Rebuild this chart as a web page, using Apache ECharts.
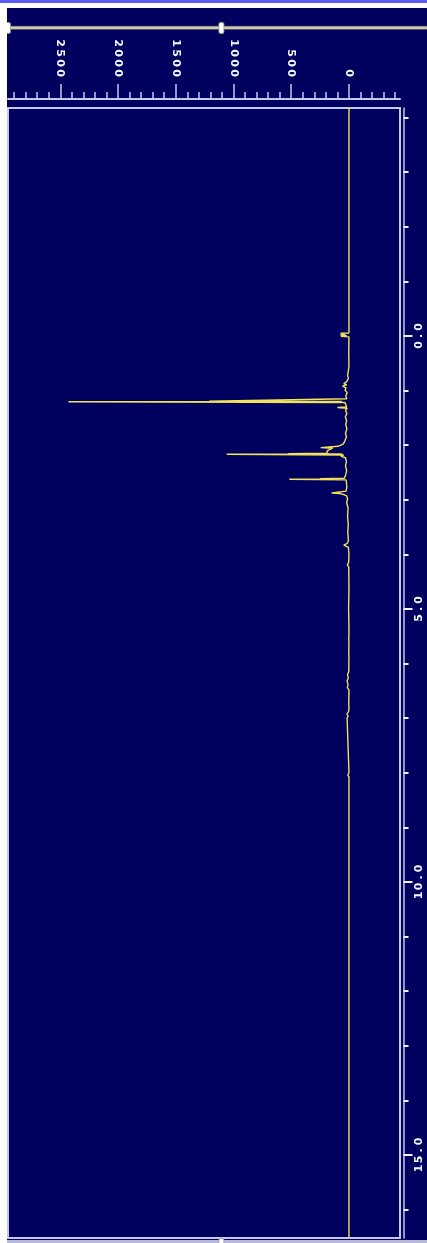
<!DOCTYPE html>
<html>
<head>
<meta charset="utf-8">
<script src="https://cdn.jsdelivr.net/npm/echarts@6/dist/echarts.min.js"></script>
<style>
  html, body { margin: 0; padding: 0; background: #ffffff; }
  #chart { width: 427px; height: 1243px; }
</style>
</head>
<body>
<div id="chart"></div>
<script>
// 1H spectrum, drawn rotated: chemical shift runs down the right axis,
// intensity grows to the left along the top axis.

// Chemical shift (ppm) of each trace point, in order
const shiftPpm = [
  -4.18, -0.055, -0.05, -0.035, -0.02, -0.005, 0.005, 0.015,
  0.30, 0.55, 0.65, 0.72, 0.78, 0.84, 0.87, 0.89, 0.92, 0.95, 0.99, 1.04, 1.10, 1.15,
  1.185, 1.195, 1.200, 1.205, 1.218,
  1.25, 1.298, 1.310, 1.322,
  1.36, 1.42, 1.48, 1.55, 1.62, 1.70, 1.78, 1.85, 1.92, 1.98,
  2.02, 2.035, 2.045, 2.055, 2.07, 2.09, 2.11, 2.13, 2.148, 2.155, 2.160, 2.166, 2.178,
  2.20, 2.23, 2.30, 2.38, 2.46, 2.54,
  2.606, 2.613, 2.618, 2.624, 2.634,
  2.68, 2.76, 2.84, 2.86, 2.875, 2.885, 2.90, 2.93, 2.98,
  3.05, 3.15, 3.30, 3.45, 3.60, 3.75, 3.80, 3.83, 3.845, 3.87,
  4.00, 4.15, 4.19, 4.23, 4.60, 5.00,
  5.36, 5.39, 5.42, 5.55, 5.58, 5.61, 5.80, 5.83, 5.86,
  6.15, 6.20, 6.26, 6.32, 6.38, 6.44, 6.48,
  6.74, 6.77, 6.80, 6.88, 6.92, 6.96, 7.00, 7.03,
  8.00, 8.04, 8.08, 16.52
];

// Signal intensity at each of those shifts
const intensity = [
  0, 0, 72, 30, 75, 20, 70, 0,
  2, 0, 6, 12, 5, 22, 45, 20, 55, 25, 35, 15, 28, 18,
  25, 1210, 60, 2430, 35,
  30, 20, 100, 15,
  30, 18, 32, 20, 28, 18, 30, 22, 35, 50,
  95, 110, 245, 140, 160, 175, 190, 205, 190, 525, 60, 1059, 45,
  70, 30, 22, 30, 20, 28,
  40, 251, 40, 517, 25,
  22, 18, 25, 40, 150, 80, 50, 20, 12,
  20, 8, 12, 6, 10, 5, 15, 45, 35, 5,
  0, 3, 14, 2, 0, 3,
  0, 12, 0, 2, 14, 0, 2, 14, 0,
  2, 12, 6, 16, 8, 14, 0,
  2, 14, 0, 3, 18, 8, 16, 0,
  0, 10, 0, 0
];

// Axis ticks and labels
const intensityLabels = [0, 500, 1000, 1500, 2000, 2500];
const intensityMinor = [-400, -300, -200, -100, 0, 100, 200, 300, 400, 500, 600, 700, 800, 900,
  1000, 1100, 1200, 1300, 1400, 1500, 1600, 1700, 1800, 1900, 2000, 2100, 2200, 2300, 2400,
  2500, 2600, 2700, 2800, 2900];
const shiftLabels = [0, 5, 10, 15];
const shiftMinor = [-4, -3, -2, -1, 0, 1, 2, 3, 4, 5, 6, 7, 8, 9, 10, 11, 12, 13, 14, 15, 16];

const trace = shiftPpm.map((p, i) => [intensity[i], p]);

const FRAME = '#c6c6ee';
const TEXT = '#f6f6ff';
const FONT = 'DejaVu Sans';

// Spread characters into fixed-width cells, like the instrument's tick font
function spaced(str) {
  return String(str).split('').map(c => '{c|' + c + '}').join('');
}
function richCell(w) {
  return { c: { width: w, align: 'center', fontSize: 11, fontWeight: 'bold', fontFamily: FONT, color: TEXT } };
}

const X_MIN = -442, X_MAX = 2953;
const Y_MIN = -4.176, Y_MAX = 16.52;

const chart = echarts.init(document.getElementById('chart'), null, { renderer: 'canvas' });

chart.setOption({
  animation: false,
  backgroundColor: '#00005f',
  grid: {
    left: 8, top: 108, width: 392, height: 1130,
    show: true, borderColor: FRAME, borderWidth: 2,
    containLabel: false, outerBoundsMode: 'none'
  },
  xAxis: [
    {
      type: 'value', position: 'top', offset: 9, inverse: true,
      min: X_MIN, max: X_MAX,
      axisLine: { show: true, onZero: false, lineStyle: { color: FRAME, width: 2 } },
      axisTick: { show: true, customValues: intensityLabels, length: 15, lineStyle: { color: FRAME, width: 1.5 } },
      axisLabel: {
        show: true, customValues: intensityLabels, rotate: 90, margin: 21,
        formatter: v => spaced(v), rich: richCell(10)
      },
      splitLine: { show: false }
    },
    {
      type: 'value', position: 'top', offset: 9, inverse: true,
      min: X_MIN, max: X_MAX,
      axisLine: { show: false, onZero: false },
      axisTick: { show: true, customValues: intensityMinor, length: 7, lineStyle: { color: FRAME, width: 1.5 } },
      axisLabel: { show: false },
      splitLine: { show: false }
    }
  ],
  yAxis: [
    {
      type: 'value', position: 'right', offset: 3.5, inverse: true,
      min: Y_MIN, max: Y_MAX,
      axisLine: { show: true, onZero: false, lineStyle: { color: FRAME, width: 1.5 } },
      axisTick: { show: true, customValues: shiftLabels, length: 9, lineStyle: { color: '#f0f0ff', width: 2 } },
      axisLabel: {
        show: true, customValues: shiftLabels, rotate: 90, margin: 10,
        formatter: v => spaced(v.toFixed(1)), rich: richCell(9)
      },
      splitLine: { show: false }
    },
    {
      type: 'value', position: 'right', offset: 3.5, inverse: true,
      min: Y_MIN, max: Y_MAX,
      axisLine: { show: false, onZero: false },
      axisTick: { show: true, customValues: shiftMinor, length: 5, lineStyle: { color: '#f0f0ff', width: 2 } },
      axisLabel: { show: false },
      splitLine: { show: false }
    }
  ],
  series: [{
    type: 'line',
    xAxisIndex: 0, yAxisIndex: 0,
    data: trace,
    symbol: 'none',
    clip: true,
    lineStyle: { color: '#f2e25a', width: 1.4 }
  }],
  graphic: [
    // page margins
    { type: 'rect', left: 0, top: 0, shape: { width: 7, height: 1243 }, style: { fill: '#ffffff' }, z: 100 },
    { type: 'rect', left: 0, top: 0, shape: { width: 427, height: 8 }, style: { fill: '#ffffff' }, z: 100 },
    { type: 'rect', left: 0, top: 0, shape: { width: 427, height: 3 }, style: { fill: '#5c5cf4' }, z: 101 },
    // scroll track and thumbs
    { type: 'rect', left: 7, top: 26, shape: { width: 420, height: 3 }, style: { fill: '#d6cfb2', stroke: '#8a8676', lineWidth: 0.5 }, z: 90 },
    { type: 'rect', left: 6, top: 22, shape: { width: 4, height: 11, r: 1.5 }, style: { fill: '#ffffff', stroke: '#9a9a9a', lineWidth: 0.8 }, z: 91 },
    { type: 'rect', left: 218.5, top: 22, shape: { width: 5, height: 11, r: 1.5 }, style: { fill: '#ffffff', stroke: '#9a9a9a', lineWidth: 0.8 }, z: 91 },
    { type: 'rect', left: 7, top: 1240, shape: { width: 420, height: 3 }, style: { fill: '#b8b8d8' }, z: 90 },
    { type: 'rect', left: 218.5, top: 1238, shape: { width: 5, height: 8, r: 1.5 }, style: { fill: '#ffffff', stroke: '#9a9a9a', lineWidth: 0.8 }, z: 91 }
  ]
});
</script>
</body>
</html>
